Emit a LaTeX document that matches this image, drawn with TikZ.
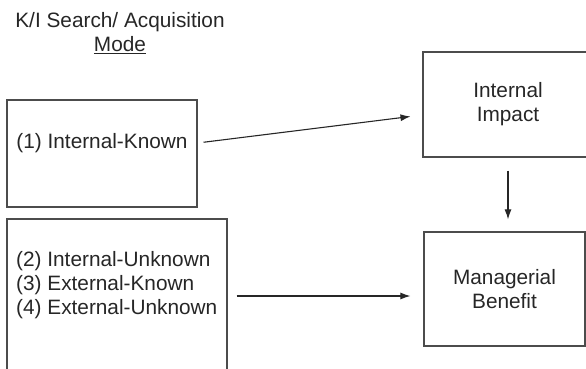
\documentclass[tikz,border=0pt]{standalone}
\usepackage{fontspec}
\setmainfont{Liberation Sans}
\usetikzlibrary{arrows.meta}

\begin{document}
\begin{tikzpicture}[x=1pt, y=-1pt,
        box/.style={draw=black!70, line width=1.2pt, inner sep=0pt},
        txt/.style={text=black!85, font=\fontsize{20.8}{24}\selectfont, inner sep=0pt},
        arr/.style={-{Latex[length=10pt, width=7pt]}, line width=1.1pt, draw=black!85}]
        \useasboundingbox (0, 0) rectangle (586, 369);
        \clip (0, 0) rectangle (586, 369);

        \node[txt, align=center] (title) at (120, 33) {K/I Search/ Acquisition\\\underline{Mode}};

        \node[box, minimum width=190, minimum height=107] (known) at (102, 153.5) {};
        \node[box, minimum width=220, minimum height=170] (unknown) at (117, 304) {};
        \node[box, minimum width=170, minimum height=105] (impact) at (508, 104.5) {};
        \node[box, minimum width=161, minimum height=114] (benefit) at (504.5, 289) {};

        \node[txt] (knowntxt) at (102, 143) {(1) Internal-Known};
        \node[txt, align=left, anchor=west] (unknowntxt) at (16, 285) {(2) Internal-Unknown\\(3) External-Known\\(4) External-Unknown};
        \node[txt, align=center] (impacttxt) at (impact) {Internal\\Impact};
        \node[txt, align=center] (benefittxt) at (benefit) {Managerial\\Benefit};

        \coordinate (a1) at ([yshift=-10.5pt]impact.west);
        \coordinate (a2) at ([yshift=-7pt]benefit.west);

        \draw[arr, shorten <=6pt, shorten >=12pt] (knowntxt.east -| known.east) -- (a1);
        \draw[arr, shorten <=9pt, shorten >=13pt] (a2 -| unknown.east) -- (a2);
        \draw[arr, shorten <=13pt, shorten >=12pt] (impact.south) -- (impact.south |- benefit.north);
    \end{tikzpicture}
\end{document}
